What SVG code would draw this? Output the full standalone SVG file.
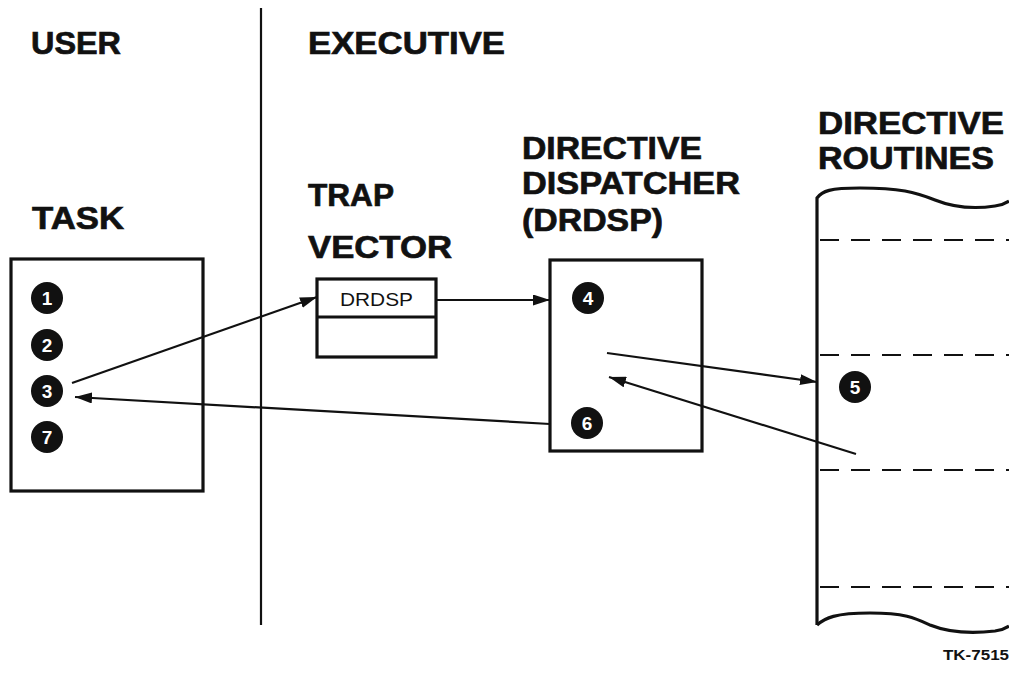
<svg xmlns="http://www.w3.org/2000/svg" width="1009" height="679" viewBox="0 0 1009 679">
<style>
.h{font-family:"Liberation Sans",Arial,sans-serif;font-weight:bold;font-size:32px;fill:#111;stroke:#111;stroke-width:0.7}
.box{fill:none;stroke:#111;stroke-width:3.2}
.dot{fill:#111}
.num{font-family:"Liberation Sans",Arial,sans-serif;font-weight:bold;font-size:19px;fill:#fff;text-anchor:middle}
.ln{fill:none;stroke:#111;stroke-width:2.2}
.dash{fill:none;stroke:#111;stroke-width:2.2;stroke-dasharray:19 12}
</style>
<defs>
<marker id="ah" markerUnits="userSpaceOnUse" markerWidth="17" markerHeight="11" refX="17" refY="5.5" orient="auto">
<path d="M0,0 L17,5.5 L0,11 z" fill="#111"/>
</marker>
</defs>
<rect width="1009" height="679" fill="#fff"/>
<line x1="261" y1="8" x2="261" y2="625" stroke="#111" stroke-width="2.2"/>
<g id="labels">
<text class="h" x="31" y="54" textLength="90" lengthAdjust="spacingAndGlyphs">USER</text>
<text class="h" x="308" y="54" textLength="197" lengthAdjust="spacingAndGlyphs">EXECUTIVE</text>
<text class="h" x="32" y="229" textLength="92" lengthAdjust="spacingAndGlyphs">TASK</text>
<text class="h" x="308" y="206" textLength="86" lengthAdjust="spacingAndGlyphs">TRAP</text>
<text class="h" x="308" y="258" textLength="144" lengthAdjust="spacingAndGlyphs">VECTOR</text>
<text class="h" x="522" y="159" textLength="180" lengthAdjust="spacingAndGlyphs">DIRECTIVE</text>
<text class="h" x="522" y="194" textLength="218" lengthAdjust="spacingAndGlyphs">DISPATCHER</text>
<text class="h" x="522" y="231" textLength="141" lengthAdjust="spacingAndGlyphs">(DRDSP)</text>
<text class="h" x="818" y="134" textLength="186" lengthAdjust="spacingAndGlyphs">DIRECTIVE</text>
<text class="h" x="818" y="169" textLength="176" lengthAdjust="spacingAndGlyphs">ROUTINES</text>
<text x="943" y="660" font-family="Liberation Sans,Arial,sans-serif" font-weight="bold" font-size="14" fill="#111" textLength="66" lengthAdjust="spacingAndGlyphs">TK-7515</text>
</g>
<g id="task">
<rect class="box" x="11" y="259" width="192" height="232"/>
<circle class="dot" cx="47" cy="298" r="16"/><text class="num" x="47" y="305">1</text>
<circle class="dot" cx="47" cy="345" r="16"/><text class="num" x="47" y="352">2</text>
<circle class="dot" cx="47" cy="391" r="16"/><text class="num" x="47" y="398">3</text>
<circle class="dot" cx="47" cy="437" r="16"/><text class="num" x="47" y="444">7</text>
</g>
<g id="trap-vector">
<rect class="box" x="317" y="279" width="119" height="78"/>
<line class="box" x1="317" y1="317" x2="436" y2="317"/>
<text x="340" y="306" font-family="Liberation Sans,Arial,sans-serif" font-size="19" fill="#111" textLength="73" lengthAdjust="spacingAndGlyphs">DRDSP</text>
</g>
<g id="dispatcher">
<rect class="box" x="550" y="260" width="152" height="191"/>
<circle class="dot" cx="588" cy="298" r="16"/><text class="num" x="588" y="305">4</text>
<circle class="dot" cx="587" cy="423" r="16"/><text class="num" x="587" y="430">6</text>
</g>
<g id="routines">
<path class="box" d="M817,625 L817,198 C822,191 830,188 860,188 C900,188 915,192 935,200 C955,208 975,209 995,206 C1002,205 1006,203 1009,201"/>
<path class="box" d="M817,625 C825,618 835,613 870,613 C905,613 915,618 930,625 C950,633 970,634 995,631 C1002,630 1006,628 1009,626"/>
<line class="dash" x1="820" y1="240" x2="1009" y2="240"/>
<line class="dash" x1="820" y1="355" x2="1009" y2="355"/>
<line class="dash" x1="820" y1="470" x2="1009" y2="470"/>
<line class="dash" x1="820" y1="587" x2="1009" y2="587"/>
<circle class="dot" cx="855" cy="387" r="16"/><text class="num" x="855" y="394">5</text>
</g>
<g id="connectors">
<line class="ln" x1="72" y1="383" x2="317" y2="297" marker-end="url(#ah)"/>
<line class="ln" x1="437" y1="300" x2="550" y2="300" marker-end="url(#ah)"/>
<line class="ln" x1="607" y1="353" x2="817" y2="382" marker-end="url(#ah)"/>
<line class="ln" x1="856" y1="454" x2="609" y2="377" marker-end="url(#ah)"/>
<line class="ln" x1="550" y1="424" x2="75" y2="397" marker-end="url(#ah)"/>
</g>
</svg>
